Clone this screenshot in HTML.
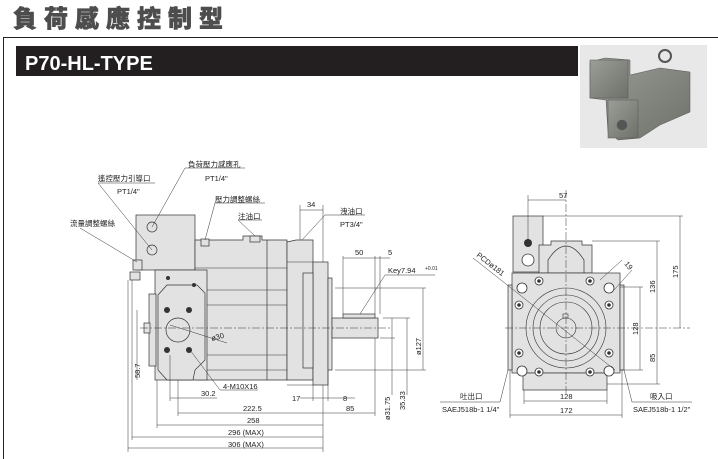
<!DOCTYPE html>
<html><head><meta charset="utf-8"><style>
html,body{margin:0;padding:0;background:#fff;}
svg{display:block;}
text{font-family:"Liberation Sans","Noto Sans CJK TC",sans-serif;fill:#222;}
</style></head><body>
<svg width="718" height="459" viewBox="0 0 718 459" xmlns="http://www.w3.org/2000/svg">
<defs>
<linearGradient id="pg" x1="0" y1="0" x2="1" y2="1"><stop offset="0" stop-color="#9a9e96"/><stop offset="1" stop-color="#6d716a"/></linearGradient>
</defs>
<text x="13" y="27" font-size="24" font-weight="900" style="fill:#4d4d4d;letter-spacing:7px;stroke:#4d4d4d;stroke-width:0.6" font-family="Noto Sans CJK TC, sans-serif">負荷感應控制型</text>
<line x1="3" y1="37.5" x2="718" y2="37.5" stroke="#222" stroke-width="1"/>
<line x1="3.5" y1="37" x2="3.5" y2="459" stroke="#222" stroke-width="1"/>
<rect x="16" y="46" width="562" height="30" fill="#231f20"/>
<text x="25" y="70" font-size="20" font-weight="bold" style="fill:#fff">P70-HL-TYPE</text>
<rect x="580" y="45" width="127" height="103" fill="#e8e8e8"/>
<g fill="url(#pg)" stroke="#555" stroke-width="0.5">
<path d="M590 62 L605 58 L630 60 V75 L660 68 L690 72 V112 L660 125 L640 138 L618 140 L608 132 L606 100 L590 98 Z"/>
<rect x="590" y="60" width="38" height="38"/>
<rect x="608" y="100" width="30" height="38"/>
<circle cx="665" cy="56" r="6" fill="none" stroke="#555" stroke-width="2"/>
<circle cx="622" cy="125" r="5" fill="#555"/>
</g>
<g stroke="#333" stroke-width="0.7" fill="#e2e2e2">
<rect x="136" y="215" width="59" height="55"/>
<path d="M195 240 H243 V236 H262 V240 H287 V380 H195 Z"/>
<line x1="267" y1="240" x2="267" y2="380"/>
<path d="M287 242 L296 240 H313 V380 H287 Z"/>
<rect x="313" y="262" width="15" height="123"/>
<rect x="303" y="273" width="10" height="95"/>
<rect x="328" y="278" width="4" height="92"/>
<rect x="332" y="318" width="46" height="20"/>
<rect x="343" y="314" width="32" height="4"/>
<rect x="155" y="270" width="52" height="110"/>
<path d="M158 295 L167 285 H197 L205 293 V360 L195 370 L193 380 H167 L158 370 Z"/>
<rect x="149" y="294" width="7" height="72"/>
<rect x="144" y="323" width="6" height="10"/>
<rect x="201" y="239" width="8" height="7"/>
<rect x="250" y="236" width="10" height="6"/>
<rect x="130" y="272" width="10" height="8"/>
<rect x="133" y="260" width="9" height="10"/>
<circle cx="178" cy="330" r="12"/>
<circle cx="152" cy="227" r="5" fill="none"/>
<circle cx="152" cy="250" r="5" fill="none"/>
<rect x="513" y="216" width="30" height="56"/>
<path d="M539 273 V245 H551 V241 H582 V245 H592 V273 Z"/>
<path d="M548 273 V260 Q566 232 584 260 V273" fill="none"/>
<rect x="512" y="273" width="108" height="100"/>
<rect x="523" y="373" width="84" height="17"/>
<rect x="508" y="285" width="4" height="85"/>
<rect x="620" y="285" width="4" height="85"/>
</g>
<g stroke="#333" stroke-width="0.6" fill="none">
<line x1="195" y1="268" x2="287" y2="268"/><line x1="207" y1="290" x2="287" y2="290"/>
<line x1="207" y1="305" x2="287" y2="305"/><line x1="207" y1="355" x2="287" y2="355"/>
<line x1="207" y1="370" x2="287" y2="370"/><line x1="287" y1="262" x2="313" y2="262"/>
<line x1="287" y1="385" x2="313" y2="385"/>
<circle cx="566" cy="328" r="40"/><circle cx="566" cy="328" r="33"/>
<circle cx="566" cy="328" r="26"/><circle cx="566" cy="328" r="10"/>
<rect x="563" y="314" width="5" height="4"/>
</g>
<g fill="#333">
<circle cx="167" cy="310" r="3"/><circle cx="189" cy="310" r="3"/>
<circle cx="167" cy="350" r="3"/><circle cx="189" cy="350" r="3"/>
<circle cx="168" cy="278" r="2"/><circle cx="194" cy="285" r="2"/>
<circle cx="528" cy="243" r="4"/>
</g>
<g fill="#fff" stroke="#333" stroke-width="0.8">
<circle cx="539" cy="281" r="4"/><circle cx="590" cy="281" r="4"/>
<circle cx="519" cy="305" r="4"/><circle cx="609" cy="305" r="4"/>
<circle cx="519" cy="353" r="4"/><circle cx="609" cy="353" r="4"/>
<circle cx="539" cy="372" r="4"/><circle cx="590" cy="372" r="4"/>
<circle cx="528" cy="260" r="6"/>
<circle cx="522" cy="288" r="5"/><circle cx="609" cy="288" r="5"/>
<circle cx="522" cy="371" r="5"/><circle cx="609" cy="371" r="5"/>
</g>
<g fill="#333">
<circle cx="539" cy="281" r="1.8"/><circle cx="590" cy="281" r="1.8"/>
<circle cx="519" cy="305" r="1.8"/><circle cx="609" cy="305" r="1.8"/>
<circle cx="519" cy="353" r="1.8"/><circle cx="609" cy="353" r="1.8"/>
<circle cx="539" cy="372" r="1.8"/><circle cx="590" cy="372" r="1.8"/>
</g>
<g stroke="#333" stroke-width="0.5" fill="none">
<line x1="140" y1="328" x2="390" y2="328" stroke-dasharray="8,2,2,2"/>
<line x1="505" y1="328" x2="690" y2="328" stroke-dasharray="8,2,2,2"/>
<line x1="566" y1="190" x2="566" y2="395" stroke-dasharray="8,2,2,2"/>
<line x1="178" y1="413" x2="323" y2="413"/><line x1="157" y1="425" x2="323" y2="425"/>
<line x1="132" y1="437" x2="323" y2="437"/><line x1="128" y1="448" x2="323" y2="448"/>
<line x1="170" y1="398" x2="217" y2="398"/><line x1="323" y1="413" x2="375" y2="413"/>
<line x1="300" y1="398" x2="355" y2="398"/>
<line x1="323" y1="385" x2="323" y2="452"/><line x1="128" y1="280" x2="128" y2="452"/>
<line x1="132" y1="280" x2="132" y2="440"/><line x1="157" y1="380" x2="157" y2="428"/>
<line x1="178" y1="380" x2="178" y2="416"/><line x1="170" y1="355" x2="170" y2="401"/>
<line x1="375" y1="338" x2="375" y2="416"/><line x1="313" y1="385" x2="313" y2="401"/>
<line x1="328" y1="370" x2="328" y2="401"/>
<line x1="137" y1="310" x2="137" y2="380"/>
<line x1="423" y1="288" x2="423" y2="370"/><line x1="335" y1="288" x2="426" y2="288"/><line x1="335" y1="370" x2="426" y2="370"/>
<line x1="407" y1="318" x2="407" y2="395"/><line x1="392" y1="318" x2="392" y2="395"/>
<line x1="383" y1="318" x2="410" y2="318"/><line x1="380" y1="338" x2="395" y2="338"/>
<line x1="343" y1="258" x2="390" y2="258"/><line x1="343" y1="256" x2="343" y2="314"/>
<line x1="375" y1="256" x2="375" y2="314"/><line x1="380" y1="256" x2="380" y2="314"/>
<line x1="300" y1="210" x2="323" y2="210"/><line x1="300" y1="205" x2="300" y2="240"/><line x1="323" y1="205" x2="323" y2="262"/>
<line x1="80" y1="228" x2="137" y2="262"/><line x1="98" y1="183" x2="152" y2="250"/><line x1="155" y1="183" x2="98" y2="183"/>
<line x1="152" y1="227" x2="185" y2="168"/><line x1="185" y1="168" x2="245" y2="168"/>
<line x1="205" y1="240" x2="215" y2="203"/><line x1="215" y1="203" x2="265" y2="203"/>
<line x1="238" y1="220" x2="255" y2="236"/><line x1="238" y1="220" x2="262" y2="220"/>
<line x1="302" y1="240" x2="325" y2="215"/><line x1="325" y1="215" x2="365" y2="215"/>
<line x1="360" y1="314" x2="385" y2="275"/><line x1="385" y1="275" x2="435" y2="275"/>
<line x1="190" y1="350" x2="220" y2="390"/><line x1="220" y1="390" x2="258" y2="390"/>
<line x1="170" y1="325" x2="227" y2="343"/>
<line x1="528" y1="200" x2="566" y2="200"/><line x1="528" y1="195" x2="528" y2="243"/>
<line x1="543" y1="216" x2="683" y2="216"/><line x1="680" y1="216" x2="680" y2="328"/>
<line x1="592" y1="241" x2="660" y2="241"/><line x1="657" y1="241" x2="657" y2="384"/>
<line x1="620" y1="287" x2="643" y2="287"/><line x1="620" y1="370" x2="643" y2="370"/><line x1="640" y1="287" x2="640" y2="370"/>
<line x1="607" y1="384" x2="660" y2="384"/>
<line x1="524" y1="401" x2="607" y2="401"/><line x1="510" y1="415" x2="622" y2="415"/>
<line x1="524" y1="390" x2="524" y2="404"/><line x1="607" y1="390" x2="607" y2="404"/>
<line x1="510" y1="370" x2="510" y2="418"/><line x1="622" y1="370" x2="622" y2="418"/>
<line x1="473" y1="258" x2="615" y2="370"/>
<line x1="600" y1="280" x2="622" y2="260"/><line x1="614" y1="290" x2="632" y2="270"/>
<line x1="508" y1="370" x2="500" y2="402"/><line x1="500" y1="402" x2="440" y2="402"/>
<line x1="624" y1="370" x2="632" y2="402"/><line x1="632" y1="402" x2="692" y2="402"/>
</g>
<g font-size="7.5">
<text x="188" y="167">負荷壓力感應孔</text><text x="205" y="181">PT1/4"</text>
<text x="98" y="181">遙控壓力引導口</text><text x="117" y="194">PT1/4"</text>
<text x="70" y="226">流量調整螺絲</text>
<text x="215" y="202">壓力調整螺絲</text><text x="238" y="219">注油口</text>
<text x="307" y="207">34</text><text x="340" y="214">洩油口</text><text x="340" y="227">PT3/4"</text>
<text x="355" y="255">50</text><text x="388" y="255">5</text>
<text x="388" y="273">Key7.94</text><text x="425" y="270" font-size="5">+0.01</text>
<text x="212" y="341" transform="rotate(-15 212 341)">ø30</text>
<text x="223" y="389">4-M10X16</text>
<text x="201" y="396">30.2</text><text x="292" y="401">17</text><text x="343" y="401">8</text>
<text x="243" y="411">222.5</text><text x="346" y="411">85</text>
<text x="247" y="423">258</text><text x="228" y="435">296 (MAX)</text><text x="228" y="447">306 (MAX)</text>
<text x="0" y="0" transform="translate(140 378) rotate(-90)">58.7</text>
<text x="0" y="0" transform="translate(421 355) rotate(-90)">ø127</text>
<text x="0" y="0" transform="translate(405 410) rotate(-90)">35.33</text>
<text x="0" y="0" transform="translate(390 420) rotate(-90)">ø31.75</text>
<text x="559" y="198">57</text>
<text x="0" y="0" transform="translate(678 278) rotate(-90)">175</text>
<text x="0" y="0" transform="translate(655 293) rotate(-90)">136</text>
<text x="0" y="0" transform="translate(638 335) rotate(-90)">128</text>
<text x="0" y="0" transform="translate(655 362) rotate(-90)">85</text>
<text x="560" y="399">128</text><text x="560" y="413">172</text>
<text x="0" y="0" transform="translate(476 256) rotate(38)">PCDø181</text>
<text x="0" y="0" transform="translate(624 264) rotate(50)">19</text>
<text x="460" y="399">吐出口</text><text x="442" y="412">SAEJ518b-1 1/4"</text>
<text x="650" y="399">吸入口</text><text x="633" y="412">SAEJ518b-1 1/2"</text>
</g>
</svg>
</body></html>
